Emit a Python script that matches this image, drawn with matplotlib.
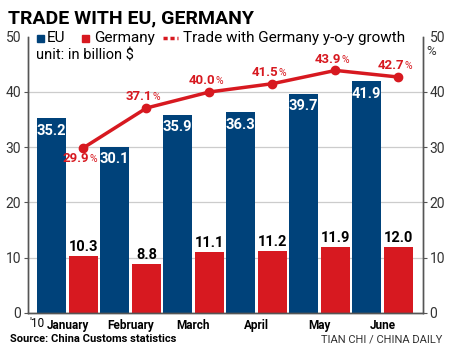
import numpy as np
import matplotlib.pyplot as plt
from matplotlib.patches import Rectangle

months = ["January", "February", "March", "April", "May", "June"]
eu = [35.2, 30.1, 35.9, 36.3, 39.7, 41.9]
germany = [10.3, 8.8, 11.1, 11.2, 11.9, 12.0]
growth = [29.9, 37.1, 40.0, 41.5, 43.9, 42.7]

blue = "#00427a"
red = "#d71920"
plt.rcParams["font.family"] = ["Roboto", "DejaVu Sans"]
plt.rcParams["font.stretch"] = "condensed"

fig = plt.figure(figsize=(4.5, 3.51), dpi=100)
ax = fig.add_axes([0.0622, 0.1083, 0.8771, 0.7871])
ax2 = ax.twinx()

x = np.arange(len(months))
w = 0.46
off = 0.254
ax.bar(x - off, eu, w, color=blue, zorder=2)
ax.bar(x + off, germany, w, color=red, zorder=2)

for i in range(len(months)):
    ax.annotate(f"{eu[i]:.1f}", (x[i] - off, eu[i]), xytext=(0, -4),
                textcoords="offset points", ha="center", va="top",
                color="white", fontsize=10.5, fontweight="bold", zorder=3)
    ax.annotate(f"{germany[i]:.1f}", (x[i] + off, germany[i]), xytext=(0, 1.5),
                textcoords="offset points", ha="center", va="bottom",
                color="black", fontsize=10.5, fontweight="bold", zorder=3)

# growth line on right axis
ax2.plot(x + off, growth, color=red, lw=2.5, marker="o", ms=6, zorder=4)
for i in range(len(months)):
    dy = -8 if i == 0 else 8
    ax2.annotate(f"{growth[i]:.1f}", (x[i] + off, growth[i]), xytext=(4, dy),
                 textcoords="offset points", ha="right", va="center",
                 color=red, fontsize=9.5, fontweight="bold")
    ax2.annotate("%", (x[i] + off, growth[i]), xytext=(4.3, dy - 0.3),
                 textcoords="offset points", ha="left", va="center",
                 color=red, fontsize=7.5)

for a in (ax, ax2):
    a.set_ylim(0, 50)
    a.set_xlim(-0.627, 5.638)
    a.spines["top"].set_visible(False)
    for s in ("left", "right", "bottom"):
        a.spines[s].set_color("#555555")
        a.spines[s].set_linewidth(1.0)

ax.set_yticks([0, 10, 20, 30, 40, 50])
ax2.set_yticks([0, 10, 20, 30, 40, 50])
ax.tick_params(axis="y", length=3, width=0.8, color="#555555", labelsize=10,
               labelcolor="#333333", pad=2)
ax2.tick_params(axis="y", length=3, width=0.8, color="#555555", labelsize=10,
                labelcolor="#333333", pad=2)
ax2.yaxis.get_major_ticks()[-1].tick2line.set_visible(False)
ax.yaxis.get_major_ticks()[-1].tick1line.set_visible(False)
ax.set_xticks(x)
ax.set_xticklabels(months, fontweight="bold", fontsize=8.5)
ax.tick_params(axis="x", length=0, pad=4)
ax.yaxis.grid(True, color="#cccccc", lw=0.9, zorder=0)
ax.set_axisbelow(True)
ax.yaxis.get_gridlines()[-1].set_visible(False)
fig.text(0.947, 0.852, "%", fontsize=9.5, color="#333333", va="center")

# legend
ly = 0.892
fig.patches.append(Rectangle((0.082, ly - 0.011), 0.0156, 0.02,
                             transform=fig.transFigure, color=blue))
fig.text(0.104, ly, "EU", fontsize=11, va="center")
fig.patches.append(Rectangle((0.182, ly - 0.011), 0.0156, 0.02,
                             transform=fig.transFigure, color=red))
fig.text(0.210, ly, "Germany", fontsize=11, va="center")
fig.lines.append(plt.Line2D([0.362, 0.396], [ly, ly], transform=fig.transFigure,
                            color=red, lw=2.5, ls=(0, (1.2, 0.8))))
fig.text(0.407, ly, "Trade with Germany y-o-y growth", fontsize=11, va="center")
fig.text(0.080, 0.843, "unit: in billion $", fontsize=10.5, va="center")

fig.text(0.018, 0.947, "TRADE WITH EU, GERMANY", fontsize=14, fontweight="bold",
         va="center")
fig.text(0.066, 0.077, "'10", fontsize=8.5, va="center", ha="left")
fig.text(0.022, 0.034, "Source: China Customs statistics", fontsize=8,
         fontweight="bold", va="center")
fig.text(0.984, 0.034, "TIAN CHI / CHINA DAILY", fontsize=8, color="#333333",
         va="center", ha="right")

fig.savefig("out.png", dpi=100)
